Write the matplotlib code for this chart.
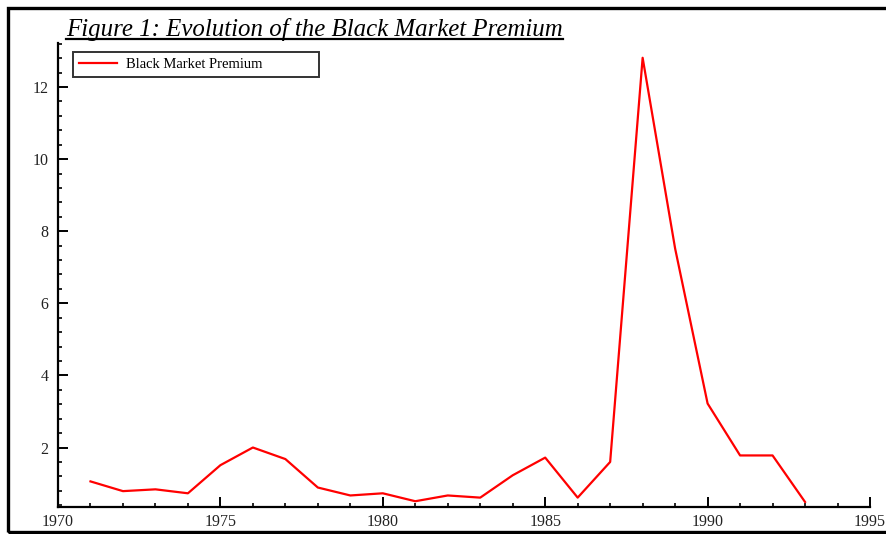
import matplotlib
matplotlib.use("Agg")
import matplotlib.pyplot as plt
from matplotlib.ticker import MultipleLocator
from matplotlib.patches import Rectangle
from matplotlib.lines import Line2D

years = [1971, 1972, 1973, 1974, 1975, 1976, 1977, 1978, 1979, 1980, 1981, 1982,
         1983, 1984, 1985, 1986, 1987, 1988, 1989, 1990, 1991, 1992, 1993]
premium = [1.06, 0.79, 0.84, 0.73, 1.51, 2.00, 1.68, 0.89, 0.67, 0.73, 0.51, 0.67,
           0.61, 1.23, 1.72, 0.61, 1.60, 12.81, 7.52, 3.22, 1.78, 1.78, 0.49]
series_label = "Black Market Premium"
title_text = "Figure 1: Evolution of the Black Market Premium"

W, H = 887, 534
fig = plt.figure(figsize=(W / 100, H / 100), dpi=100)
plt.rcParams["font.family"] = ["Liberation Serif", "DejaVu Serif"]

ax_l, ax_r, ax_t, ax_b = 58, 870, 43, 507
ax = fig.add_axes([ax_l / W, 1 - ax_b / H, (ax_r - ax_l) / W, (ax_b - ax_t) / H])
ax.plot(years, premium, color="#ff0000", lw=1.6, label=series_label)

ax.set_xlim(1970, 1995)
ax.set_ylim(0.35, 13.22)
ax.xaxis.set_major_locator(MultipleLocator(5))
ax.xaxis.set_minor_locator(MultipleLocator(1))
ax.yaxis.set_minor_locator(MultipleLocator(0.4))
ax.set_yticks([2, 4, 6, 8, 10, 12])

for s in ("top", "right"):
    ax.spines[s].set_visible(False)
for s in ("left", "bottom"):
    ax.spines[s].set_linewidth(1.6)

ax.tick_params(which="major", direction="in", length=7, width=1.4,
               labelsize=11.5, color="black", labelcolor="#222222")
ax.tick_params(which="minor", direction="in", length=3.2, width=1.2)
ax.tick_params(axis="y", which="major", pad=7)
ax.tick_params(axis="x", which="major", pad=5)

# Legend box spanning a fixed width in the upper-left corner
aw, ah = ax_r - ax_l, ax_b - ax_t
leg_box = ((73 - ax_l) / aw, 1 - (76 - ax_t) / ah, (319 - 73) / aw, (76 - 52) / ah)
leg = ax.legend(loc="upper left", bbox_to_anchor=leg_box, mode="expand",
                frameon=True, fancybox=False, edgecolor="black", fontsize=10.5,
                handlelength=2.6, handletextpad=0.6, borderpad=0.4,
                borderaxespad=0)
leg.get_frame().set_linewidth(1.4)

# Title with underline
fig.text(66 / W, 1 - 36 / H, title_text, fontsize=17.9, style="italic",
         ha="left", va="baseline", color="black")
fig.add_artist(Line2D([66 / W, 563 / W], [1 - 39 / H, 1 - 39 / H],
                      color="black", lw=1.6, transform=fig.transFigure))

# Outer frame
fig.add_artist(Rectangle((8 / W, 1 - 532 / H), (W + 10 - 8) / W, (532 - 8) / H,
                         fill=False, edgecolor="black", lw=2.4,
                         transform=fig.transFigure, clip_on=False))

fig.savefig("out.png", dpi=100)
